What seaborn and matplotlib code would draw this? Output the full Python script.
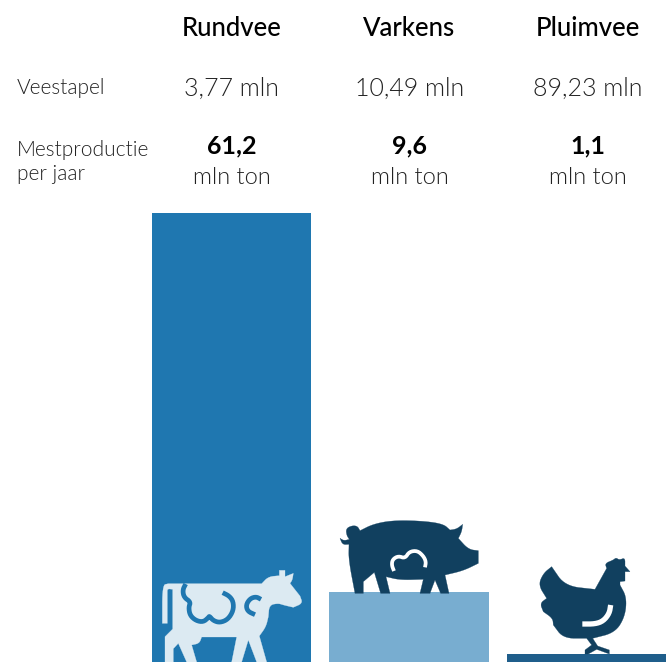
import numpy as np
import pandas as pd
import matplotlib
matplotlib.use("Agg")
import matplotlib.pyplot as plt
from matplotlib.patches import Polygon
import seaborn as sns

categories = ["Rundvee", "Varkens", "Pluimvee"]
veestapel = ["3,77 mln", "10,49 mln", "89,23 mln"]
mest = [61.2, 9.6, 1.1]
mest_labels = ["61,2", "9,6", "1,1"]
colors = ["#1F77B0", "#78ADD0", "#1F5E8B"]
row_labels = ["Veestapel", "Mestproductie\nper jaar"]
unit = "mln ton"

sns.set_theme(style="white")
plt.rcParams["font.family"] = ["Lato", "DejaVu Sans"]

fig = plt.figure(figsize=(6.66, 6.62), dpi=100)
ax = fig.add_axes([0, 0, 1, 1])
df = pd.DataFrame({"dier": categories, "mest": mest})
sns.barplot(data=df, x="dier", y="mest", hue="dier", palette=colors, width=0.896,
            legend=False, saturation=1, edgecolor="none", linewidth=0, ax=ax)
ax.set_xlim(-231.5 / 177.5, (666 - 231.5) / 177.5)
ax.set_ylim(0, 61.2 * 662 / 449)
ax.axis("off")

# Overlay in pixels for the header table and the animal icons
ov = fig.add_axes([0, 0, 1, 1])
ov.set_xlim(0, 666)
ov.set_ylim(662, 0)
ov.axis("off")
ov.patch.set_alpha(0)

cx = [231.5, 409.5, 587.5]
for x, c, v, m in zip(cx, categories, veestapel, mest_labels):
    ov.text(x, 28, c, ha="center", va="center", fontsize=18.5, color="black", fontweight=500)
    ov.text(x, 88.5, v, ha="center", va="center", fontsize=18, color="#222222", fontweight=300)
    ov.text(x, 146, m, ha="center", va="center", fontsize=18, color="black", fontweight="bold")
    ov.text(x, 177, unit, ha="center", va="center", fontsize=17, color="#222222", fontweight=300)
ov.text(17, 88, row_labels[0], ha="left", va="center", fontsize=15, color="#222222", fontweight=300)
ov.text(17, 162, row_labels[1], ha="left", va="center", fontsize=15, color="#222222",
        fontweight=300, linespacing=1.2)


def s(pts, n=3):
    p = np.asarray(pts, float)
    for _ in range(n):
        a, b = p[:-1], p[1:]
        mid = np.column_stack([0.75 * a + 0.25 * b, 0.25 * a + 0.75 * b]).reshape(-1, 2)
        p = np.vstack([p[0], mid, p[-1]])
    return p


def to_px(pts, ox, oy):
    return np.asarray(pts, float) / 3 + [ox, oy]


def fill(parts, ox, oy, color):
    pts = np.vstack([np.asarray(q, float) for q in parts])
    ov.add_patch(Polygon(to_px(pts, ox, oy), closed=True, fc=color, ec=color, lw=0.2))


def stroke(pts, ox, oy, color, lw, n=3):
    p = to_px(s(pts, n), ox, oy)
    ov.plot(p[:, 0], p[:, 1], color=color, lw=lw, solid_capstyle="butt", solid_joinstyle="round")


COW = "#DCEAF2"
DARK = "#11405F"

fill([
    [(37, 340)], s([(37, 340), (37, 225), (55, 221)]), [(335, 221)],
    s([(335, 221), (355, 200), (388, 197)]), [(388, 181), (405, 181), (405, 200), (430, 190)],
    s([(430, 190), (427, 210), (420, 220)]), [(450, 258)],
    s([(450, 258), (458, 280), (430, 292)]), s([(430, 292), (400, 285), (385, 280), (358, 285), (355, 320)]),
    s([(355, 320), (348, 350), (328, 378)]),
    [(350, 456), (320, 456), (295, 390), (275, 456), (245, 456), (260, 381), (155, 381)],
    s([(155, 381), (148, 400), (125, 405)]),
    [(140, 456), (110, 456), (85, 400), (70, 416), (70, 456), (45, 456), (45, 380), (68, 357)],
    s([(68, 238), (52, 236), (52, 250)]), [(52, 340)],
], 150, 510, COW)
stroke([(107, 222), (98, 240), (102, 262), (122, 276), (116, 292), (120, 316), (138, 332), (160, 336),
        (176, 322), (178, 318), (190, 332), (210, 338), (234, 328), (250, 302), (250, 275), (238, 258),
        (218, 248)], 150, 510, colors[0], 3.4, n=2)
stroke([(333, 268), (318, 260), (300, 266), (288, 285), (293, 304), (315, 314)],
       150, 510, colors[0], 3.4, n=2)

fill([
    [(75, 250), (100, 250), (100, 215), (133, 187), (152, 250), (180, 250), (168, 200)],
    s([(168, 200), (210, 210), (280, 208)]),
    [(270, 250), (300, 250), (315, 210), (332, 250), (357, 250), (345, 195)],
    s([(345, 195), (400, 182), (445, 160)]), [(445, 122)],
    s([(445, 122), (415, 118), (385, 85)]), s([(385, 85), (395, 65), (398, 43)]),
    s([(398, 43), (380, 57), (360, 60)]),
    s([(360, 60), (340, 42), (280, 33), (190, 31), (130, 42), (90, 62)]),
    s([(90, 62), (82, 48), (65, 47), (48, 56), (50, 76), (58, 88)]),
    s([(58, 88), (42, 92), (30, 85)]), s([(30, 85), (38, 104), (57, 103)]),
    s([(57, 103), (56, 150), (75, 250)]),
], 330, 510, DARK)
stroke([(192, 183), (185, 165), (188, 148), (205, 138), (225, 145), (238, 125), (262, 122), (280, 138),
        (288, 155), (285, 172)], 330, 510, "white", 2.7, n=2)

fill([
    [(665, 170)], s([(665, 170), (705, 228), (795, 238)]), [(830, 175)],
    s([(830, 175), (825, 160), (850, 150), (858, 143), (868, 150), (885, 143), (885, 168)]),
    [(900, 185), (885, 185), (885, 213), (870, 215), (870, 225)],
    s([(870, 225), (890, 262), (885, 320), (855, 368), (788, 385)]),
    [(803, 408), (838, 420), (838, 432), (800, 418), (775, 432), (765, 432), (765, 420), (785, 405), (770, 385)],
    s([(770, 385), (700, 385), (670, 345)]), s([(670, 345), (668, 325), (640, 305)]),
    s([(640, 305), (630, 280), (650, 265)]), s([(650, 265), (625, 225), (640, 190), (665, 170)]),
], 330, 510, DARK)
stroke([(842, 285), (838, 310), (820, 333), (795, 342), (757, 342)], 330, 510, "white", 3.8, n=2)

fig.savefig("out.png", dpi=100)
